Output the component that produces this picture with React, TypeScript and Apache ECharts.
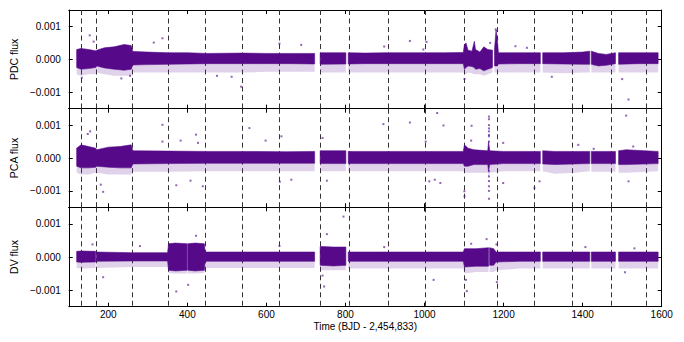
import React, { useEffect, useRef } from "react";
import * as echarts from "echarts";

// ---- axes ----
const X_MIN = 100;
const X_MAX = 1600;
const Y_MIN = -0.0015;
const Y_MAX = 0.0015;
const xTickValues = [200, 400, 600, 800, 1000, 1200, 1400, 1600];
const yTickValues = [-0.001, 0, 0.001];
const panelNames = ["PDC flux", "PCA flux", "DV flux"];
const xAxisName = "Time (BJD - 2,454,833)";

// quarter boundaries (dashed lines)
const quarterStarts = [130.5, 169, 260.3, 352.3, 443.7, 539.2, 630.7, 735.4, 808.6, 907, 1001.5, 1100.5, 1184, 1276, 1374, 1473, 1561.5];

// ---- dense light-curve envelopes: [time, lower fringe, lower edge, upper edge] ----
const pdcSegments = [
  [[120, -0.00045, -0.00025, 0.0003], [131, -0.0005, -0.0003, 0.00033], [150, -0.00045, -0.00028, 0.0003], [168, -0.00045, -0.00025, 0.00026], [171, -0.0004, -0.0002, 0.00028], [190, -0.00045, -0.00026, 0.00035], [215, -0.0005, -0.0003, 0.00038], [240, -0.0005, -0.00033, 0.00045], [258, -0.0005, -0.0003, 0.00042], [262, -0.0004, -0.00017, 0.00024], [300, -0.0004, -0.00016, 0.00022], [352, -0.0004, -0.00015, 0.0002], [400, -0.0004, -0.00014, 0.0002], [450, -0.0004, -0.00013, 0.00018], [540, -0.0004, -0.00013, 0.00019], [600, -0.00038, -0.00013, 0.00018], [660, -0.00038, -0.00013, 0.00018], [722, -0.00038, -0.00014, 0.00018]],
  [[736, -0.0004, -0.00015, 0.0002], [801, -0.0004, -0.00014, 0.0002]],
  [[807, -0.0004, -0.00014, 0.0002], [850, -0.0004, -0.00013, 0.00019], [900, -0.0004, -0.00013, 0.0002], [950, -0.0004, -0.00013, 0.0002], [1000, -0.0004, -0.00013, 0.0002], [1050, -0.0004, -0.00013, 0.0002], [1098, -0.0004, -0.00013, 0.00021], [1101, -0.00045, -0.0003, 0.00045], [1105, -0.00045, -0.00025, 0.0005], [1110, -0.0004, -0.0002, 0.00028], [1120, -0.00042, -0.00022, 0.00025], [1126, -0.00045, -0.00025, 0.00055], [1129, -0.00045, -0.0003, 0.0003], [1140, -0.00045, -0.00028, 0.00022], [1150, -0.0005, -0.00035, 0.00038], [1160, -0.00045, -0.0003, 0.0003], [1172, -0.0004, -0.00025, 0.00028]],
  [[1177, -0.0004, -0.0002, 0.0003], [1181, -0.0004, -0.0002, 0.0009], [1184, -0.0004, -0.0002, 0.0006], [1187, -0.0004, -0.00014, 0.0002], [1240, -0.0004, -0.00013, 0.0002], [1293, -0.0004, -0.00013, 0.0002]],
  [[1299, -0.0004, -0.00013, 0.0002], [1350, -0.00042, -0.00014, 0.0002], [1400, -0.0004, -0.00015, 0.00022], [1418, -0.0004, -0.00015, 0.00025]],
  [[1422, -0.0004, -0.00015, 0.00025], [1440, -0.0004, -0.0002, 0.00018], [1460, -0.0004, -0.00018, 0.00015], [1483, -0.0004, -0.00013, 0.0002]],
  [[1491, -0.0004, -0.00015, 0.0002], [1540, -0.0004, -0.00013, 0.0002], [1591, -0.0004, -0.00013, 0.0002]],
];

const pcaSegments = [
  [[120, -0.00045, -0.00025, 0.0003], [131, -0.0005, -0.0003, 0.0004], [150, -0.0005, -0.0003, 0.00035], [168, -0.00045, -0.00028, 0.0003], [171, -0.00045, -0.00025, 0.00025], [200, -0.0005, -0.00028, 0.00033], [230, -0.0005, -0.0003, 0.00035], [258, -0.0005, -0.0003, 0.0004], [262, -0.00042, -0.00018, 0.00022], [350, -0.00042, -0.00017, 0.00021], [450, -0.0004, -0.00016, 0.0002], [550, -0.0004, -0.00016, 0.0002], [650, -0.0004, -0.00016, 0.00019], [722, -0.0004, -0.00016, 0.0002]],
  [[736, -0.0004, -0.00017, 0.00022], [801, -0.0004, -0.00017, 0.00022]],
  [[807, -0.0004, -0.00017, 0.0002], [900, -0.0004, -0.00017, 0.0002], [1000, -0.0004, -0.00017, 0.0002], [1098, -0.0004, -0.00017, 0.0002], [1101, -0.00045, -0.00025, 0.0004], [1110, -0.00045, -0.00025, 0.0003], [1125, -0.00045, -0.0002, 0.00025], [1160, -0.00045, -0.0002, 0.00022], [1162, -0.0006, -0.0004, 0.0005], [1165, -0.00045, -0.0002, 0.00022], [1200, -0.0004, -0.00017, 0.0002], [1293, -0.0004, -0.00017, 0.0002]],
  [[1299, -0.0004, -0.00018, 0.00022], [1330, -0.00048, -0.0002, 0.0002], [1380, -0.00045, -0.00018, 0.0002], [1418, -0.0004, -0.00017, 0.0002]],
  [[1422, -0.00042, -0.00017, 0.0002], [1483, -0.00042, -0.00017, 0.0002]],
  [[1491, -0.00045, -0.0002, 0.00022], [1510, -0.00045, -0.0002, 0.00025], [1591, -0.0004, -0.00017, 0.0002]],
];

const dvSegments = [
  [[120, -0.00033, -0.00015, 0.00017], [131, -0.00035, -0.00016, 0.00018], [168, -0.00033, -0.00015, 0.00017]],
  [[170, -0.00033, -0.00013, 0.00015], [260, -0.0003, -0.00012, 0.00013], [350, -0.0003, -0.00012, 0.00013], [352.5, -0.00048, -0.0004, 0.0004], [370, -0.0005, -0.00042, 0.00042], [399, -0.0005, -0.0004, 0.0004]],
  [[400.8, -0.0005, -0.0004, 0.0004], [420, -0.0005, -0.00042, 0.00042], [443, -0.00048, -0.0004, 0.0004], [445, -0.00033, -0.00013, 0.00015], [540, -0.00033, -0.00013, 0.00015], [630, -0.00033, -0.00013, 0.00015], [722, -0.00033, -0.00013, 0.00015]],
  [[736, -0.0004, -0.00025, 0.00032], [770, -0.0004, -0.00027, 0.0003], [801, -0.0004, -0.00025, 0.0003]],
  [[807, -0.00035, -0.00013, 0.00015], [900, -0.00035, -0.00013, 0.00015], [1000, -0.00035, -0.00013, 0.00015], [1098, -0.00035, -0.00013, 0.00015], [1101, -0.0005, -0.0003, 0.00025], [1130, -0.00045, -0.00028, 0.00025], [1162, -0.00045, -0.00028, 0.00028]],
  [[1164.5, -0.00045, -0.00025, 0.00028], [1175, -0.00045, -0.00025, 0.00025], [1181, -0.0004, -0.00015, 0.00015], [1240, -0.00035, -0.00013, 0.00015], [1293, -0.00035, -0.00013, 0.00015]],
  [[1299, -0.00035, -0.00013, 0.00015], [1418, -0.00035, -0.00013, 0.00015]],
  [[1422, -0.00035, -0.00013, 0.00015], [1483, -0.00035, -0.00013, 0.00015]],
  [[1491, -0.00035, -0.00013, 0.00015], [1591, -0.00035, -0.00013, 0.00015]],
];

// ---- isolated points: [time, flux] ----
const pdcOutliers = [
  [153, 0.00073], [163, 0.00054], [337, 0.00064], [315, 0.00051], [633, 0.00048], [688, 0.00044],
  [536, -0.00083], [133, -0.00056], [233, -0.00058], [255, -0.0005], [475, -0.0005], [512, -0.00053],
  [898, 0.00039], [963, 0.00056], [1005, 0.00053], [997, 0.0003], [1180, 0.00091], [1184, 0.00061],
  [1166, 0.0005], [1230, 0.0004], [1259, 0.00035], [1516, -0.00122], [1101, -0.0006], [1322, -0.00053], [1500, -0.0006],
];

const pcaOutliers = [
  [148, 0.00073], [154, 0.00081], [337, 0.00101], [337, 0.0005], [383, 0.00053], [422, 0.00071], [427, 0.00046],
  [557, 0.00091], [598, 0.00053], [638, 0.00066], [181, -0.00081], [187, -0.00103], [372, -0.00083],
  [408, -0.00069], [439, -0.00086], [634, -0.00072], [663, -0.00066], [753, -0.00069], [742, 0.00061],
  [896, 0.00103], [963, 0.00108], [1032, 0.00137], [1048, 0.00099], [1003, 0.0005], [1119, 0.00098], [1118, 0.00053],
  [1163, 0.00126], [1163, 0.00118], [1163, 0.001], [1163, 0.0009], [1163, 0.00081], [1163, 0.0007], [1163, 0.00066],
  [1163, 0.0005], [1163, -0.0004], [1163, -0.00056], [1163, -0.0007], [1163, -0.00086], [1163, -0.001], [1163, -0.00124],
  [1101, -0.00117], [1101, -0.00101], [1012, -0.00071], [1026, -0.00066], [1040, -0.00076], [1199, -0.00076],
  [1199, 0.00046], [1278, -0.00091], [1291, -0.00071], [1510, 0.00129], [1528, 0.00035], [1516, -0.00071],
  [1389, 0.0004], [1428, 0.00028],
];

const dvOutliers = [
  [160, 0.00038], [280, 0.00033], [422, 0.00064], [372, -0.00104], [402, -0.00084], [187, -0.00061],
  [753, 0.00069], [746, -0.00089], [742, -0.00056], [633, 0.00033], [795, 0.00122], [898, 0.0003],
  [1023, -0.00069], [1105, -0.00069], [1107, -0.00103], [1118, 0.0004], [1157, 0.00054], [1182, 0.00038],
  [1183, -0.00076], [1407, 0.0003], [1531, 0.00026], [1507, -0.00046],
];

const panelSegments = [pdcSegments, pcaSegments, dvSegments];
const panelOutliers = [pdcOutliers, pcaOutliers, dvOutliers];

// ---- styles ----
const FONT = "'Liberation Sans', Arial, sans-serif";
const BAND = "#560a8a";
const FRINGE = "rgba(98, 30, 150, 0.2)";
const DOT = "rgba(94, 26, 148, 0.85)";
const GRIDS = [
  { top: 10, height: 98.7 },
  { top: 108.7, height: 98.6 },
  { top: 207.3, height: 99.4 },
];

function fmtY(v: number) {
  const s = Math.abs(v).toFixed(3);
  return v < -1e-12 ? "\u2212" + s : s;
}

export default function App() {
  const ref = useRef<HTMLDivElement>(null);

  useEffect(() => {
    if (!ref.current) return;
    const chart = echarts.init(ref.current, null, { renderer: "svg" });

    const grid = GRIDS.map((g) => ({ left: 62, right: 22.3, top: g.top, height: g.height, containLabel: false }));
    const axisLineStyle = { color: "#000", width: 1 };
    const xAxis: any[] = [];
    const yAxis: any[] = [];
    const series: any[] = [];

    GRIDS.forEach((_, g) => {
      const isLast = g === GRIDS.length - 1;
      xAxis.push({
        type: "value", gridIndex: g, min: X_MIN, max: X_MAX, position: "bottom",
        axisLine: { show: true, onZero: false, lineStyle: axisLineStyle },
        axisTick: { show: true, inside: true, length: 4, customValues: xTickValues, lineStyle: axisLineStyle },
        axisLabel: { show: isLast, customValues: xTickValues, formatter: (v: number) => String(v), fontSize: 10, color: "#000", fontFamily: FONT, margin: 3 },
        splitLine: { show: false },
        name: isLast ? xAxisName : "", nameLocation: "middle", nameGap: 15,
        nameTextStyle: { fontSize: 10, color: "#000", fontFamily: FONT },
      });
      xAxis.push({
        type: "value", gridIndex: g, min: X_MIN, max: X_MAX, position: "top",
        axisLine: { show: true, onZero: false, lineStyle: axisLineStyle },
        axisTick: { show: true, inside: true, length: 4, customValues: xTickValues, lineStyle: axisLineStyle },
        axisLabel: { show: false },
        splitLine: { show: false },
      });
      yAxis.push({
        type: "value", gridIndex: g, min: Y_MIN, max: Y_MAX, position: "left",
        axisLine: { show: true, onZero: false, lineStyle: axisLineStyle },
        axisTick: { show: true, inside: true, length: 4, customValues: yTickValues, lineStyle: axisLineStyle },
        axisLabel: { show: true, customValues: yTickValues, formatter: (v: number) => fmtY(v), fontSize: 10, color: "#000", fontFamily: FONT, margin: 8 },
        splitLine: { show: false },
        name: panelNames[g], nameLocation: "middle", nameGap: 44, nameRotate: 90,
        nameTextStyle: { fontSize: 10.5, color: "#000", fontFamily: FONT },
      });
      yAxis.push({
        type: "value", gridIndex: g, min: Y_MIN, max: Y_MAX, position: "right",
        axisLine: { show: true, onZero: false, lineStyle: axisLineStyle },
        axisTick: { show: true, inside: true, length: 4, customValues: yTickValues, lineStyle: axisLineStyle },
        axisLabel: { show: false },
        splitLine: { show: false },
      });

      // quarter boundaries
      series.push({
        type: "custom", xAxisIndex: 2 * g, yAxisIndex: 2 * g, z: 1, silent: true,
        data: quarterStarts.map((q) => [q, 0]),
        encode: { x: 0, y: 1 },
        renderItem: (_p: any, api: any) => {
          const a = api.coord([api.value(0), Y_MAX]);
          const b = api.coord([api.value(0), Y_MIN]);
          const x = Math.round(a[0]) + 0.5;
          return {
            type: "line",
            shape: { x1: x, y1: a[1], x2: x, y2: b[1] },
            style: { stroke: "#333", lineWidth: 1, lineDash: [5, 3.5] },
          };
        },
      });

      // dense data envelopes
      const segs = panelSegments[g];
      series.push({
        type: "custom", xAxisIndex: 2 * g, yAxisIndex: 2 * g, z: 3, silent: true, clip: true,
        data: segs.map((s, i) => [s[0][0], 0, i]),
        encode: { x: 0, y: 1 },
        renderItem: (_p: any, api: any) => {
          const seg = segs[api.value(2)];
          const hi = seg.map((p) => api.coord([p[0], p[3]]));
          const lo = seg.map((p) => api.coord([p[0], p[2]]));
          const fr = seg.map((p) => api.coord([p[0], p[1]]));
          return {
            type: "group",
            children: [
              { type: "polygon", shape: { points: lo.concat(fr.slice().reverse()) }, style: { fill: FRINGE } },
              { type: "polygon", shape: { points: hi.concat(lo.slice().reverse()) }, style: { fill: BAND, stroke: BAND, lineWidth: 0.6 } },
            ],
          };
        },
      });

      // isolated points
      series.push({
        type: "scatter", xAxisIndex: 2 * g, yAxisIndex: 2 * g, z: 4, silent: true,
        symbol: "rect", symbolSize: 2,
        itemStyle: { color: DOT },
        data: panelOutliers[g],
      });
    });

    chart.setOption({
      animation: false,
      backgroundColor: "#fff",
      grid, xAxis, yAxis, series,
    });
    return () => chart.dispose();
  }, []);

  return <div ref={ref} style={{ position: "fixed", left: 0, top: 0, width: 684, height: 342 }} />;
}
